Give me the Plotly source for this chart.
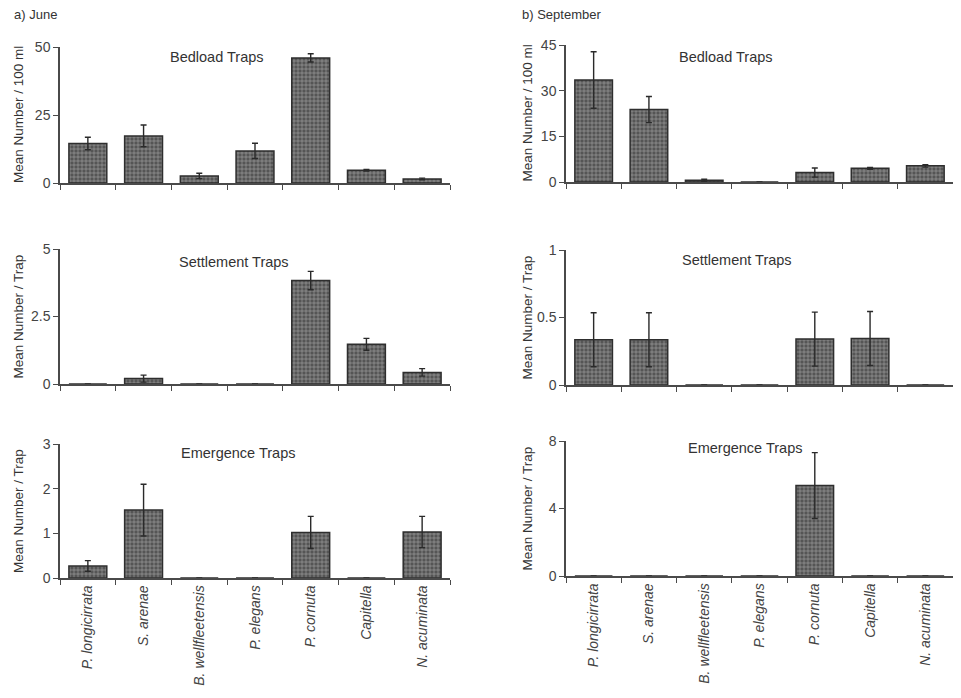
import plotly.graph_objects as go

species = ["P. longicirrata", "S. arenae", "B. wellfleetensis", "P. elegans",
           "P. cornuta", "Capitella", "N. acuminata"]

june_bedload = [14.5, 17.3, 2.6, 11.8, 46.0, 4.7, 1.5]
june_bedload_err = [2.3, 4.0, 1.0, 2.8, 1.5, 0.3, 0.3]
sept_bedload = [33.5, 23.8, 0.55, 0.0, 3.1, 4.5, 5.3]
sept_bedload_err = [9.3, 4.3, 0.35, 0.0, 1.5, 0.3, 0.4]

june_settle = [0.0, 0.2, 0.0, 0.0, 3.83, 1.47, 0.43]
june_settle_err = [0.0, 0.13, 0.0, 0.0, 0.34, 0.22, 0.14]
sept_settle = [0.335, 0.335, 0.0, 0.0, 0.34, 0.345, 0.0]
sept_settle_err = [0.2, 0.2, 0.0, 0.0, 0.2, 0.2, 0.0]

june_emerg = [0.27, 1.52, 0.0, 0.0, 1.02, 0.0, 1.03]
june_emerg_err = [0.12, 0.58, 0.0, 0.0, 0.36, 0.0, 0.35]
sept_emerg = [0.0, 0.0, 0.0, 0.0, 5.36, 0.0, 0.0]
sept_emerg_err = [0.0, 0.0, 0.0, 0.0, 1.95, 0.0, 0.0]

panel_titles = ["Bedload Traps", "Settlement Traps", "Emergence Traps"]
ytitles = ["Mean Number / 100 ml", "Mean Number / Trap", "Mean Number / Trap"]
june_ticks = [[0, 25, 50], [0, 2.5, 5], [0, 1, 2, 3]]
sept_ticks = [[0, 15, 30, 45], [0, 0.5, 1], [0, 4, 8]]

OFF = 8  # page body margin
W, H = 961 - OFF, 698 - OFF
def px(x): return (x - OFF) / W
def py(y): return 1 - (y - OFF) / H

panels = [
    (june_bedload, june_bedload_err, june_ticks[0], (60, 450), (47, 183), (217, 57), 18),
    (sept_bedload, sept_bedload_err, sept_ticks[0], (566, 953), (45, 182), (726, 57), 527),
    (june_settle, june_settle_err, june_ticks[1], (60, 450), (249, 384), (234, 262), 18),
    (sept_settle, sept_settle_err, sept_ticks[1], (566, 953), (250, 385), (737, 260), 527),
    (june_emerg, june_emerg_err, june_ticks[2], (60, 450), (444, 578), (238, 453), 18),
    (sept_emerg, sept_emerg_err, sept_ticks[2], (566, 953), (441, 576), (745, 448), 527),
]

fig = go.Figure()
FONT = "Liberation Sans, Arial, sans-serif"
axis_col = "#4a4a4a"
layout = {}
annotations = []
for i, (vals, errs, ticks, xd, yd, tpos, ytx) in enumerate(panels):
    k = i + 1
    xa = "x" if k == 1 else f"x{k}"
    ya = "y" if k == 1 else f"y{k}"
    err_plot = [e if e > 0 else float("nan") for e in errs]
    fig.add_trace(go.Bar(
        x=species, y=vals, xaxis=xa, yaxis=ya, width=0.68,
        marker=dict(color="#666666",
                    line=dict(color="#2e2e2e", width=1.5),
                    pattern=dict(shape="+", fgcolor="#aaaaaa", bgcolor="#555555",
                                 size=4, solidity=0.25)),
        error_y=dict(type="data", array=err_plot, symmetric=True,
                     color="#2a2a2a", thickness=1.4, width=3),
        showlegend=False, hoverinfo="x+y",
    ))
    bottom = i >= 4
    layout[f"xaxis{'' if k == 1 else k}"] = dict(
        domain=[px(xd[0]), px(xd[1])], anchor=ya, type="category",
        range=[-0.5, 6.5], tickson="boundaries", ticks="outside", ticklen=5,
        tickwidth=1.3, tickcolor=axis_col, showline=True, linecolor=axis_col,
        linewidth=1.5, showgrid=False, zeroline=False, automargin=False,
        showticklabels=bottom, tickangle=-90,
        tickmode="array", tickvals=species,
        ticktext=[f"<i>{s}</i>" for s in species],
        tickfont=dict(family=FONT, size=14, color="#444444"),
    )
    layout[f"yaxis{'' if k == 1 else k}"] = dict(
        domain=[py(yd[1]), py(yd[0])], anchor=xa, range=[0, ticks[-1]],
        tickmode="array", tickvals=ticks, ticktext=[f"{t:g}" for t in ticks],
        ticks="outside", ticklen=5, tickwidth=1.3, tickcolor=axis_col,
        showline=True, linecolor=axis_col, linewidth=1.5, showgrid=False,
        zeroline=False, automargin=False,
        tickfont=dict(family=FONT, size=14, color="#444444"),
    )
    annotations.append(dict(
        text=panel_titles[i // 2], x=px(tpos[0]), y=py(tpos[1]),
        xref="paper", yref="paper", showarrow=False, xanchor="center",
        yanchor="middle", font=dict(family=FONT, size=14.5, color="#333333")))
    annotations.append(dict(
        text=ytitles[i // 2], x=px(ytx), y=py((yd[0] + yd[1]) / 2),
        xref="paper", yref="paper", showarrow=False, textangle=-90,
        xanchor="center", yanchor="middle",
        font=dict(family=FONT, size=13.5, color="#333333")))

annotations.append(dict(text="a) June", x=px(12), y=py(15), xref="paper", yref="paper",
                        showarrow=False, xanchor="left", yanchor="middle",
                        font=dict(family=FONT, size=13, color="#333333")))
annotations.append(dict(text="b) September", x=px(520), y=py(15), xref="paper", yref="paper",
                        showarrow=False, xanchor="left", yanchor="middle",
                        font=dict(family=FONT, size=13, color="#333333")))

fig.update_layout(
    template="none",
    width=W, height=H, margin=dict(l=0, r=0, t=0, b=0, pad=0),
    paper_bgcolor="white", plot_bgcolor="white",
    annotations=annotations, bargap=0.3, **layout,
)
fig.write_html("out.html")
